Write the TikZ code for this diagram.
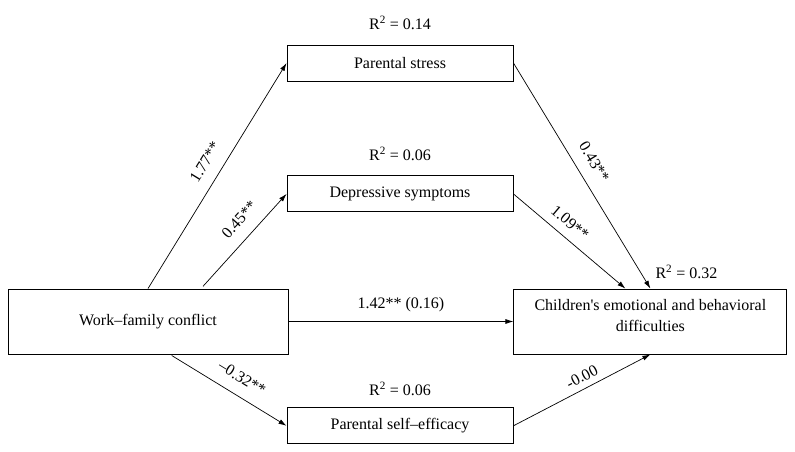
\documentclass[tikz,border=0pt]{standalone}
\usepackage{fontspec}
\setmainfont{Liberation Serif}
\usetikzlibrary{positioning, arrows.meta}

\begin{document}
\begin{tikzpicture}[
        x=1pt, y=-1pt,
        font=\fontsize{16}{21.5}\selectfont,
        var/.style={draw, line width=0.9pt, minimum width=226pt, minimum height=36pt, inner sep=2pt, align=center},
        big/.style={var, minimum height=65pt},
        arr/.style={-{Latex[length=8pt,width=5pt]}, line width=0.7pt},
        coef/.style={sloped, above=#1, inner sep=3pt},
        coef/.default=9pt,
      ]
        \useasboundingbox (0,0) rectangle (795,452);
        \node[big, minimum width=280pt] (wfc) at (148,321.5) {Work--family conflict};
        \node[big, minimum width=273pt, right=225pt of wfc] (ch) {Children\textquotesingle s emotional and behavioral\\difficulties\\[-9pt]};
        \node[var] (ps) at (400,63) {Parental stress};
        \node[var, below=94pt of ps] (ds) {Depressive symptoms};
        \node[var, below=195pt of ds] (se) {Parental self--efficacy};
        % R squared
        \node[above=11pt of ps] (r1) {R\textsuperscript{2} = 0.14};
        \node[above=11pt of ds] (r2) {R\textsuperscript{2} = 0.06};
        \node[above=8pt of se] (r3) {R\textsuperscript{2} = 0.06};
        \node[anchor=south] (r4) at ([xshift=36pt,yshift=6pt]ch.north) {R\textsuperscript{2} = 0.32};
        % paths
        \draw[arr] (wfc.north) -- node[coef, pos=0.52] {1.77**} (ps.west);
        \draw[arr, shorten <=3pt] ([xshift=53pt]wfc.north) -- node[coef, pos=0.6] {0.45**} (ds.west);
        \draw[arr] (wfc.east) -- node[above=6pt] {1.42** (0.16)} (ch.west);
        \draw[arr, shorten <=2pt] ([xshift=22pt]wfc.south) -- node[coef, pos=0.54] {--0.32**} (se.west);
        \draw[arr] (ps.east) -- node[coef, pos=0.48] {0.43**} (ch.north);
        \draw[arr] (ds.east) -- node[coef=6pt, pos=0.42] {1.09**} ([xshift=-25pt]ch.north);
        \draw[arr] (se.east) -- node[coef=3pt, pos=0.54] {-0.00} (ch.south);
      \end{tikzpicture}
\end{document}
